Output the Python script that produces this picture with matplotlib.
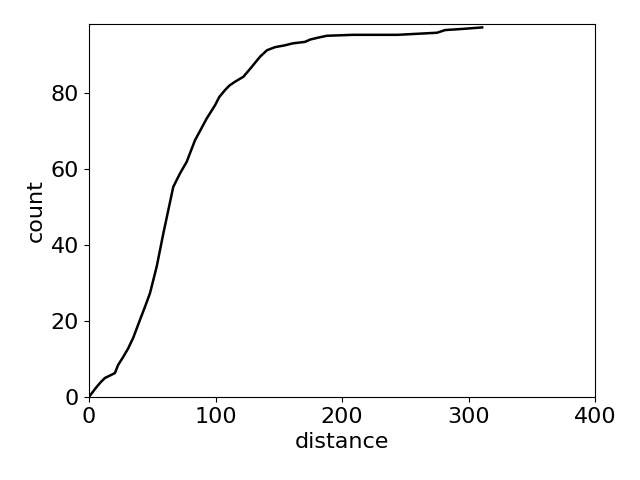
import matplotlib
matplotlib.use("Agg")
import matplotlib.pyplot as plt

distance = [0, 5, 9, 12.6, 17, 20.5, 23, 27, 31, 35, 40.3, 44, 48.2, 53.5, 58.8, 62.7,
            66.6, 72, 77.2, 83.8, 88, 93, 99.6, 103, 107.5, 111, 115.4, 122, 128.6,
            135.2, 140.7, 147, 155, 161, 170.8, 174.7, 181, 188, 208.7, 244, 275,
            281.4, 295, 310.7]
count = [0, 2.2, 3.8, 5, 5.7, 6.3, 8.4, 10.5, 12.8, 15.6, 20.3, 23.5, 27.3, 34.3, 43.1, 49.2,
         55.3, 58.9, 61.9, 67.6, 70.2, 73.3, 76.8, 79, 80.8, 82, 83, 84.3, 86.9,
         89.6, 91.3, 92.1, 92.6, 93.1, 93.5, 94.1, 94.6, 95.1, 95.35, 95.35, 95.9,
         96.6, 96.9, 97.3]

plt.rcParams['font.size'] = 16
fig, ax = plt.subplots(figsize=(6.4, 4.8), dpi=100)
ax.plot(distance, count, color='black', linewidth=1.8)
ax.set_xlim(0, 400)
ax.set_ylim(0, 98.2)
ax.set_xticks([0, 100, 200, 300, 400])
ax.set_yticks([0, 20, 40, 60, 80])
ax.set_xlabel('distance')
ax.set_ylabel('count')
fig.subplots_adjust(left=0.139, right=0.930, top=0.95, bottom=0.173)
fig.savefig('out.png')
